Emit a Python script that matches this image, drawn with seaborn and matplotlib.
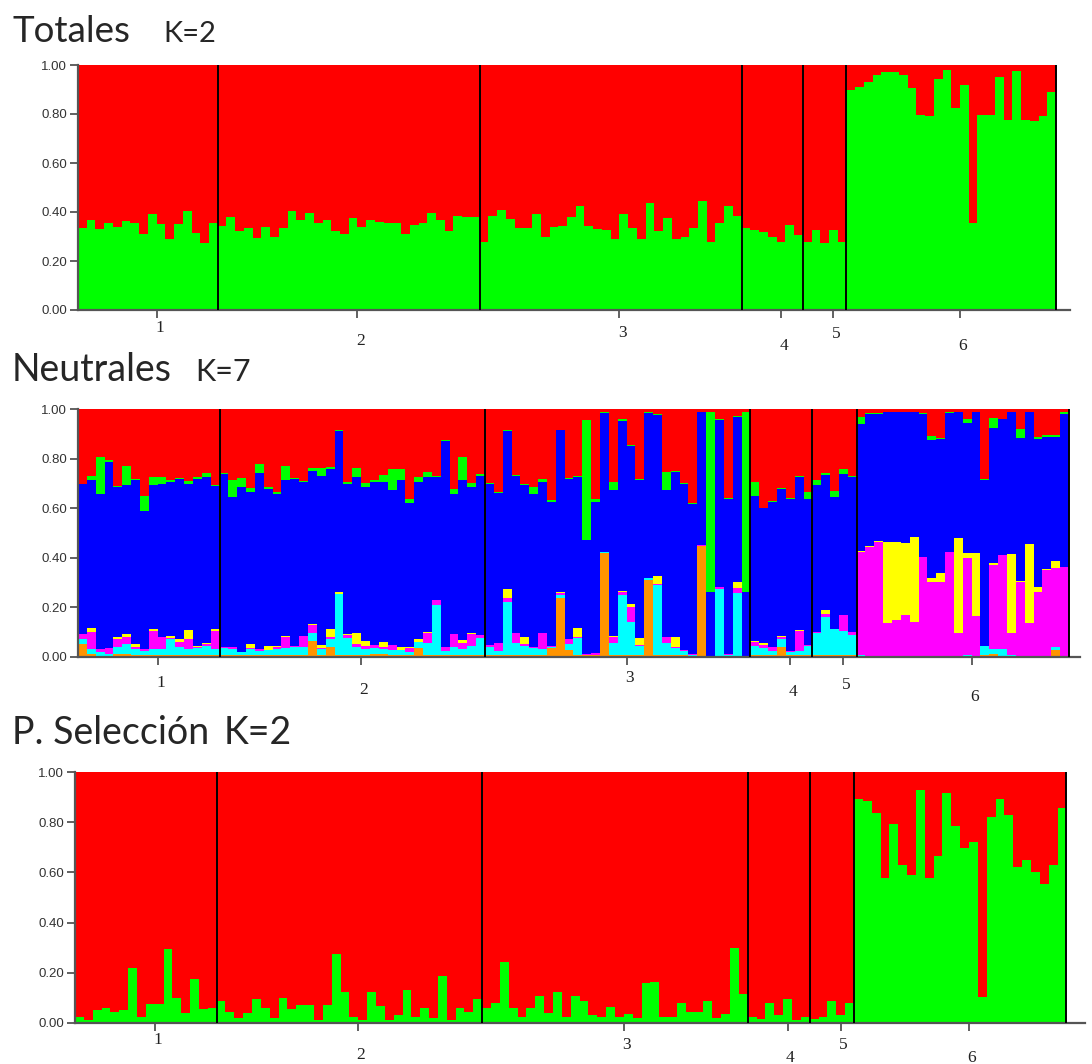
import numpy as np
import pandas as pd
import seaborn as sb
import matplotlib as mpl
import matplotlib.pyplot as plt
import matplotlib.ticker as ticker

sb.set_style('white')
mpl.rcParams['font.family'] = ['Liberation Sans', 'DejaVu Sans']

POPS = ['1', '2', '3', '4', '5', '6']
POP_SIZES = [16, 30, 30, 7, 5, 24]

CLUSTERS = ['red', 'green', 'blue', 'yellow', 'magenta', 'cyan', 'orange']
COLORS = {'red': '#ff0000', 'green': '#00ff00', 'blue': '#0000ff',
          'yellow': '#ffff00', 'magenta': '#ff00ff', 'cyan': '#00ffff',
          'orange': '#ff9400'}

### TOTALES K=2 : green membership per individual ###
tot_green = [
    # pop 1
    .333, .367, .329, .356, .34, .365, .356, .31, .39, .35, .29, .35, .405, .313, .275, .354,
    # pop 2
    .343, .38, .324, .333, .295, .34, .30, .333, .405, .367, .397, .356, .367, .324, .31,
    .374, .337, .367, .36, .354, .356, .31, .347, .354, .397, .367, .324, .384, .38, .378,
    # pop 3
    .279, .384, .41, .37, .333, .333, .39, .30, .34, .344, .378, .424, .343, .33, .327,
    .29, .39, .333, .29, .435, .324, .377, .29, .30, .333, .446, .279, .356, .424, .384,
    # pop 4
    .333, .327, .32, .30, .279, .347, .306,
    # pop 5
    .279, .327, .272, .327, .279,
    # pop 6
    .90, .91, .93, .96, .97, .97, .96, .905, .796, .79, .943, .98, .823, .918, .354,
    .796, .796, .952, .776, .975, .776, .77, .79, .888,
]

### P. SELECCION K=2 : green membership per individual ###
sel_green = [
    # pop 1
    .024, .011, .05, .057, .044, .05, .217, .024, .073, .073, .294, .10, .037, .174, .053, .057,
    # pop 2
    .088, .044, .017, .037, .093, .057, .017, .10, .053, .07, .07, .011, .07, .273, .124,
    .024, .011, .124, .067, .011, .03, .13, .024, .057, .017, .186, .011, .057, .044, .093,
    # pop 3
    .057, .077, .244, .057, .021, .057, .107, .037, .121, .021, .107, .088, .031, .024, .064,
    .021, .035, .017, .157, .164, .024, .024, .077, .044, .044, .087, .017, .035, .30, .115,
    # pop 4
    .021, .013, .077, .031, .093, .011, .021,
    # pop 5
    .013, .021, .087, .031, .077,
    # pop 6
    .893, .887, .839, .577, .794, .63, .59, .929, .577, .666, .916, .787, .696, .723, .104,
    .823, .893, .83, .623, .65, .603, .554, .63, .856,
]

### NEUTRALES K=7 : membership per cluster (red is the remainder) ###
neu_orange = [
    .05, .01, 0, 0, .01, .01, .005, .005, .005, .005, .005, .008, .005, .005, .005, .005,
    .005, .005, .005, .005, .005, .005, .005, .005, .005, .005, .065, .005, .04, .005, .005,
    .005, .008, .01, .01, .008, .008, .005, .034, .005, .005, .005, .005, .005, .005, .005,
    .005, .005, .005, .005, .005, .005, .005, .034, .236, .027, .005, .005, .005, .418, .005,
    .005, .005, .005, .31, .005, .005, .005, .005, .003, .447, 0, .003, .003, .003, 0,
    .005, .005, .005, .04, .005, .005, .005,
    .005, .005, .005, .005, .005,
    0, 0, 0, 0, 0, 0, 0, 0, 0, 0, 0, 0, 0, 0, .007, .01, 0, 0, 0, 0, 0, 0, .027, 0,
]
neu_cyan = [
    .02, .02, .02, .01, .03, .04, .025, .02, .025, .025, .065, .032, .025, .03, .04, .025,
    .03, .025, .012, .025, .02, .022, .025, .03, .035, .035, .03, .025, .03, .25, .07,
    .035, .025, .025, .02, .02, .02, .015, .027, .05, .205, .02, .035, .025, .04, .07,
    .035, .02, .215, .05, .04, .03, .025, .005, .012, .024, .07, .003, .003, .007, .052,
    .245, .135, .038, .007, .285, .052, .03, .02, .003, .002, 0, .27, .003, .253, 0,
    .04, .03, .02, .03, .015, .02, .04,
    .09, .155, .105, .10, .083,
    .005, 0, 0, 0, 0, 0, 0, .004, 0, 0, 0, 0, .008, 0, .036, .02, .03, .005, 0, .003, 0, .003, .013, 0,
]
neu_magenta = [
    .02, .07, .013, .025, .03, .03, .01, .005, .075, .05, .005, .02, .04, .005, .005, .074,
    .005, .008, .003, .005, .007, 0, .01, .045, .005, .045, .034, .005, .01, 0, .013,
    .013, .01, .013, .01, .02, 0, .015, 0, .04, .02, .013, .053, .027, .047, .013,
    .007, .03, .018, .04, .005, .005, .067, .003, .008, .019, .005, .002, .006, 0, .022,
    .01, .06, .005, 0, .003, .022, .005, .002, .006, .004, .003, .007, .006, .02, 0,
    .013, .013, .013, .008, .005, .077, .003,
    .003, .013, .003, .063, .01,
    .42, .445, .465, .137, .148, .168, .14, .40, .30, .30, .425, .094, .39, .164, 0,
    .34, .38, .09, .30, .134, .263, .347, .32, .364,
]
neu_yellow = [
    0, .015, 0, 0, .01, .012, .01, 0, .005, 0, .008, .01, .038, .003, .004, .007,
    0, 0, 0, .018, 0, .018, .003, .005, 0, 0, .003, .012, .03, .005, .004,
    .043, .02, 0, .02, 0, .012, .003, .01, .005, 0, 0, 0, .01, .005, 0,
    0, 0, .036, 0, .03, 0, 0, 0, .004, .003, .035, 0, 0, 0, .005,
    .004, .011, .027, 0, .032, 0, .04, 0, 0, 0, 0, 0, 0, .027, 0,
    .007, .007, 0, .006, 0, .007, 0,
    0, .016, 0, 0, 0,
    .004, .002, .002, .327, .317, .292, .344, 0, .02, .04, 0, .384, .023, .256, 0,
    .007, .003, .32, .005, .318, .02, .005, .027, 0,
]
neu_blue = [
    .61, .60, .625, .753, .605, .602, .664, .559, .584, .62, .625, .647, .592, .677, .673, .579,
    .698, .606, .665, .614, .709, .632, .615, .629, .672, .623, .62, .683, .647, .652, .608,
    .629, .622, .66, .648, .626, .674, .584, .637, .625, .495, .835, .565, .647, .59, .642,
    .653, .605, .64, .635, .614, .618, .611, .585, .656, .646, .61, .462, .613, .561, .59,
    .69, .639, .639, .669, .652, .595, .668, .671, .605, .537, .257, .677, .624, .665, .263,
    .585, .545, .589, .593, .611, .616, .588,
    .596, .545, .531, .57, .627,
    .511, .533, .513, .526, .525, .53, .506, .576, .556, .539, .559, .512, .525, .57, .671,
    .546, .547, .575, .578, .535, .596, .535, .50, .616,
]
neu_green = [
    0, .016, .148, .007, .005, .078, .006, .061, .034, .028, .007, .007, .01, .005, .017, .005,
    .006, .07, .036, .013, .038, .008, .009, .057, .005, .004, .009, .031, .008, .004, .005,
    .039, .019, .006, .026, .083, .043, .014, .017, .023, .005, .003, .019, .092, .016, .008,
    .004, .004, .003, .006, .004, .029, .009, .007, .002, .005, .005, .485, .009, .002, .034,
    .006, .007, .004, .002, .002, .074, .004, .004, .003, 0, .73, .003, .004, .004, .727,
    .058, .002, .003, .004, .004, .004, .031,
    .02, .007, .026, .019, .005,
    .028, .006, .006, 0, 0, 0, 0, .005, .016, .004, .006, 0, .014, 0, .006,
    .04, .002, 0, .036, 0, .008, .007, .01, .01,
]


def long_table(parts):
    n = len(parts['green'])
    parts = dict(parts)
    parts['red'] = 1 - np.sum([parts[k] for k in parts], axis=0)
    rows = []
    for k in CLUSTERS:
        if k in parts:
            rows.append(pd.DataFrame({'ind': np.arange(n), 'k': k, 'q': parts[k]}))
    return pd.concat(rows, ignore_index=True)


def structure_panel(ax, df, xmax, lab_off):
    hue_order = [k for k in CLUSTERS if k in df['k'].unique()]
    sb.histplot(data=df, x='ind', weights='q', hue='k', hue_order=hue_order,
                multiple='stack', discrete=True, shrink=1, palette=COLORS,
                alpha=1, linewidth=0, antialiased=False, legend=False, ax=ax)
    edges = np.cumsum(POP_SIZES) - 0.5
    for e in edges:
        ax.axvline(e, color='black', lw=1.4, zorder=5)
    ax.set_xlim(-0.5, xmax)
    ax.set_ylim(0, 1)
    ax.set_xlabel('')
    ax.set_ylabel('')
    ax.set_yticks(np.linspace(0, 1, 6))
    ax.yaxis.set_major_formatter(ticker.FormatStrFormatter('%0.2f'))
    centers = edges - np.array(POP_SIZES) / 2 + 1.0
    ax.set_xticks(centers)
    ax.set_xticklabels([])
    ax.tick_params(axis='both', direction='out', length=6, width=1.3,
                   color='#555555', labelsize=9.5, labelcolor='#333333', pad=2,
                   left=True, bottom=True)
    for s in ['top', 'right']:
        ax.spines[s].set_visible(False)
    for s in ['left', 'bottom']:
        ax.spines[s].set_color('#555555')
        ax.spines[s].set_linewidth(1.6)
    for c, lab, off in zip(centers, POPS, lab_off):
        ax.annotate(lab, xy=(c, 0), xycoords=('data', 'axes fraction'),
                    xytext=(2, -off * 0.72), textcoords='offset points',
                    ha='center', va='center', fontsize=12.5,
                    family='Liberation Serif', color='#222222')


W, H = 1092, 1064
fig = plt.figure(figsize=(W / 100, H / 100), dpi=100)


def px_axes(left, right, top, bottom):
    return fig.add_axes([left / W, 1 - bottom / H, (right - left) / W, (bottom - top) / H])


ax1 = px_axes(78, 1070, 65, 310)
ax2 = px_axes(78, 1080, 409.3, 656.7)
ax3 = px_axes(75, 1085, 772.3, 1022.7)

structure_panel(ax1, long_table({'green': tot_green}), 113.1, [18, 31, 23, 36, 24, 36])
structure_panel(ax2, long_table({'orange': neu_orange, 'cyan': neu_cyan,
                                 'magenta': neu_magenta, 'yellow': neu_yellow,
                                 'blue': neu_blue, 'green': neu_green}),
                112.75, [26, 33, 21, 35, 28, 40])
structure_panel(ax3, long_table({'green': sel_green}), 113.6, [17, 32, 22, 35, 22, 35])

title_font = ['Lato', 'DejaVu Sans']
fig.text(12 / W, 1 - 42 / H, 'Totales', fontsize=26.5, family=title_font, va='baseline')
fig.text(163 / W, 1 - 42 / H, 'K=2', fontsize=21, family=title_font, va='baseline')
fig.text(12 / W, 1 - 381 / H, 'Neutrales', fontsize=27, family=title_font, va='baseline')
fig.text(195 / W, 1 - 381 / H, 'K=7', fontsize=22, family=title_font, va='baseline')
fig.text(12 / W, 1 - 744 / H, 'P. Selección', fontsize=27, family=title_font, va='baseline')
fig.text(224 / W, 1 - 744 / H, 'K=2', fontsize=27, family=title_font, va='baseline')

fig.savefig('out.png', dpi=100)
